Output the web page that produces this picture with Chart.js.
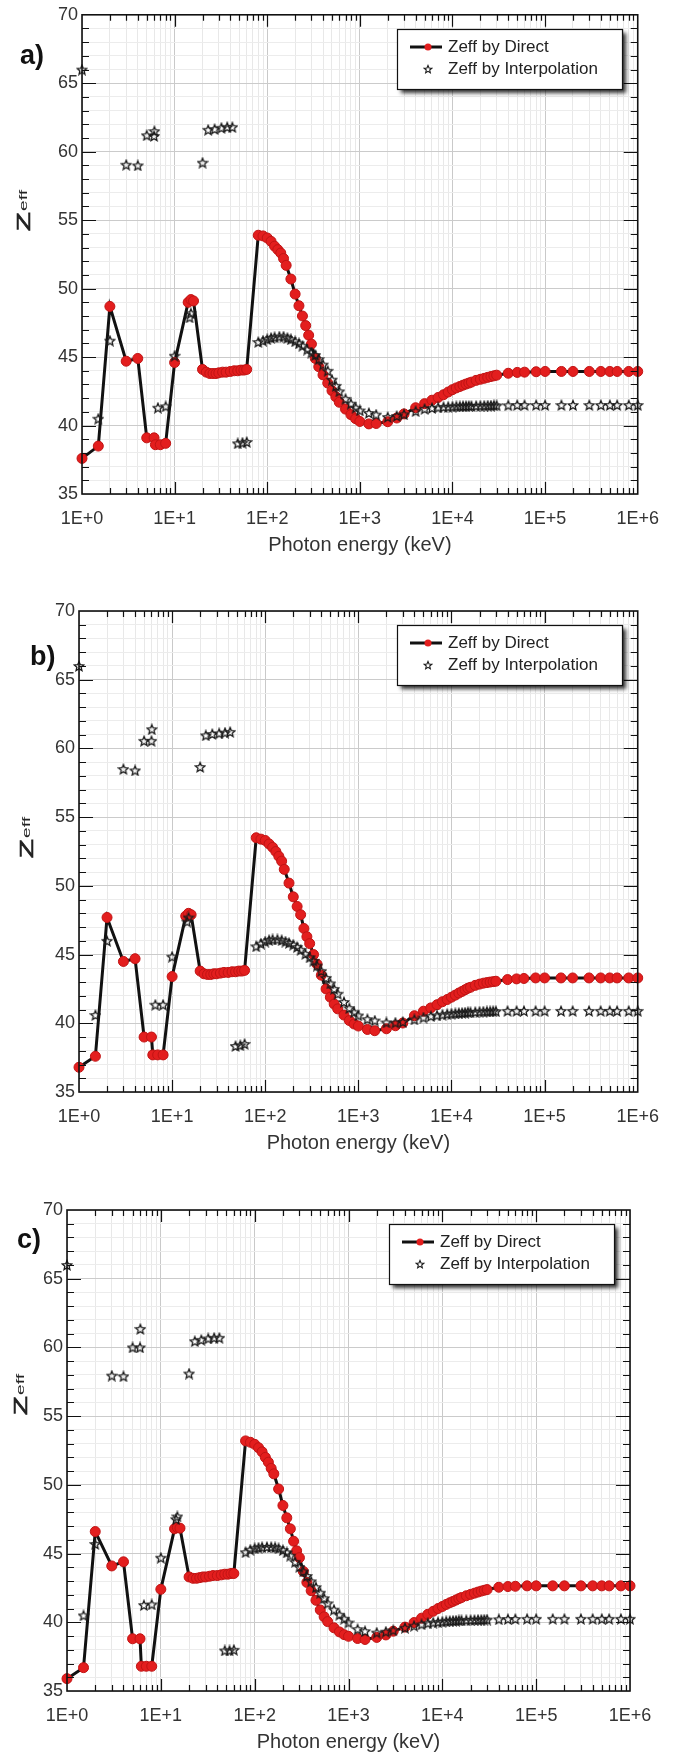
<!DOCTYPE html>
<html>
<head>
<meta charset="utf-8">
<script src="https://cdn.jsdelivr.net/npm/chart.js@4.4.1/dist/chart.umd.min.js"></script>
<style>
  body { margin: 0; background: #fff; }
  .panel { position: absolute; left: 0; }
</style>
</head>
<body>
<canvas id="chartA" class="panel" width="673" height="557" style="top:0px"></canvas>
<canvas id="chartB" class="panel" width="673" height="595" style="top:560px"></canvas>
<canvas id="chartC" class="panel" width="673" height="594" style="top:1160px"></canvas>
<script>
// Photon energies (keV)
const energyDirect = [
  1, 1.5, 2, 3, 4, 5, 6, 6.2, 7, 8,
  10, 14, 15, 16, 20,
  22, 24, 26, 28, 30, 33, 36, 40, 44, 48, 52, 56, 60,
  80, 90, 100, 110, 120, 130, 140, 150, 160, 180, 200,
  220, 240, 260, 280, 300, 330, 360, 400, 450, 500,
  550, 600, 700, 800, 900, 1000, 1250, 1500, 2000, 2500,
  3000, 4000, 5000, 6000, 7000, 8000, 9000, 10000,
  11000, 12000, 13000, 14000, 15000, 16000, 18000, 20000,
  22000, 24000, 26000, 28000, 30000, 40000, 50000, 60000, 80000,
  100000, 150000, 200000, 300000, 400000, 500000, 600000, 800000, 1000000
];
const energyInterp = [
  1, 1.5, 2, 3, 4, 5, 6, 6.05, 6.6, 8, 10,
  14.5, 15, 20,
  23, 27, 32, 37, 42,
  48, 54, 60,
  80, 90, 100, 110, 120, 135, 150, 165, 180, 200,
  220, 240, 270, 300, 330, 360, 400, 450, 500,
  550, 600, 700, 800, 900, 1000, 1250, 1500, 2000, 2500,
  3000, 4000, 5000, 6000, 7000, 8000, 9000, 10000,
  11000, 12000, 13000, 14000, 15000, 16000,
  18000, 20000, 22000, 24000, 26000, 28000, 30000,
  40000, 50000, 60000, 80000,
  100000, 150000, 200000, 300000, 400000, 500000, 600000, 800000, 1000000
];

// panel a)
const zDirectA = [
  37.6, 38.5, 48.7, 44.7, 44.9, 39.1, 39.1, 38.6, 38.6, 38.7,
  44.6, 49.0, 49.2, 49.1, 44.1,
  43.9, 43.8, 43.8, 43.8, 43.85, 43.9, 43.9, 43.95, 44.0, 44.0, 44.05, 44.05, 44.1,
  53.9, 53.85, 53.7, 53.45, 53.1, 52.85, 52.6, 52.2, 51.7, 50.7, 49.6,
  48.75, 48.0, 47.3, 46.6, 45.95, 44.9, 44.3, 43.7, 43.1, 42.55,
  42.1, 41.7, 41.2, 40.8, 40.5, 40.3, 40.12, 40.15, 40.28, 40.55,
  40.85, 41.3, 41.6, 41.85, 42.05, 42.25, 42.45, 42.62,
  42.75, 42.85, 42.95, 43.03, 43.1, 43.17, 43.3, 43.38,
  43.45, 43.52, 43.58, 43.63, 43.68, 43.82, 43.88, 43.9, 43.93,
  43.95, 43.95, 43.95, 43.95, 43.95, 43.95, 43.95, 43.95, 43.95
];
const zInterpA = [
  66.0, 40.5, 46.2, 59.05, 59.0, 61.2, 61.15, 61.5, 41.3, 41.4, 45.1,
  47.9, 48.2, 59.2,
  61.6, 61.65, 61.75, 61.8, 61.8,
  38.7, 38.75, 38.8,
  46.1, 46.2, 46.3, 46.4, 46.45, 46.5, 46.5, 46.4, 46.3, 46.15,
  46.0, 45.83, 45.55, 45.33, 45.15, 44.85, 44.45, 44.0, 43.35,
  42.9, 42.5, 41.95, 41.6, 41.3, 41.1, 40.92, 40.8, 40.62, 40.7,
  40.82, 41.05, 41.22, 41.28, 41.32, 41.35, 41.37, 41.38,
  41.4, 41.4, 41.42, 41.42, 41.43, 41.43,
  41.44, 41.45, 41.45, 41.46, 41.46, 41.47, 41.47,
  41.48, 41.5, 41.5, 41.5,
  41.5, 41.5, 41.5, 41.5, 41.5, 41.5, 41.5, 41.5, 41.5
];

// panel b)
const zDirectB = [
  36.8, 37.6, 47.7, 44.5, 44.7, 39.0, 39.0, 37.7, 37.7, 37.7,
  43.4, 47.8, 48.0, 47.9, 43.8,
  43.6, 43.55, 43.55, 43.6, 43.6, 43.65, 43.7, 43.7, 43.75, 43.75, 43.8, 43.8, 43.85,
  53.5, 53.4, 53.3, 53.05, 52.8, 52.5, 52.15, 51.8, 51.2, 50.2, 49.2,
  48.5, 47.9, 46.9, 46.3, 45.8, 45.0, 44.3, 43.5, 42.5, 41.9,
  41.4, 41.05, 40.6, 40.2, 39.95, 39.8, 39.55, 39.46, 39.6, 39.82,
  40.02, 40.55, 40.88, 41.12, 41.35, 41.57, 41.73, 41.9,
  42.05, 42.2, 42.32, 42.44, 42.55, 42.62, 42.76, 42.85,
  42.92, 42.96, 43.0, 43.03, 43.06, 43.18, 43.23, 43.26, 43.3,
  43.3, 43.3, 43.3, 43.3, 43.3, 43.3, 43.3, 43.3, 43.3
];
const zInterpB = [
  66.0, 40.6, 46.0, 58.5, 58.4, 60.55, 60.55, 61.4, 41.35, 41.35, 44.85,
  47.4, 47.7, 58.65,
  60.95, 61.05, 61.1, 61.15, 61.2,
  38.35, 38.4, 38.5,
  45.6, 45.8, 45.95, 46.05, 46.1, 46.1, 46.05, 45.95, 45.85, 45.72,
  45.55, 45.35, 45.05, 44.8, 44.55, 44.2, 43.8, 43.3, 42.9,
  42.5, 42.15, 41.55, 41.1, 40.8, 40.57, 40.3, 40.2, 40.06, 40.05,
  40.1, 40.28, 40.42, 40.52, 40.58, 40.63, 40.67, 40.7,
  40.72, 40.74, 40.76, 40.78, 40.8, 40.8,
  40.82, 40.84, 40.85, 40.86, 40.87, 40.88, 40.88,
  40.9, 40.9, 40.9, 40.9,
  40.9, 40.9, 40.9, 40.9, 40.9, 40.9, 40.9, 40.9, 40.9
];

// panel c)
const zDirectC = [
  35.9, 36.7, 46.6, 44.1, 44.4, 38.8, 38.8, 36.8, 36.8, 36.8,
  42.4, 46.8, 46.9, 46.85, 43.3,
  43.2, 43.2, 43.25, 43.3, 43.3, 43.35, 43.4, 43.4, 43.45, 43.5, 43.5, 43.55, 43.55,
  53.2, 53.1, 52.95, 52.7, 52.4, 52.0, 51.65, 51.2, 50.8, 49.7, 48.5,
  47.6, 46.8, 45.9, 45.2, 44.7, 43.7, 42.9, 42.3, 41.6, 40.9,
  40.4, 40.05, 39.6, 39.3, 39.1, 38.98, 38.82, 38.75, 38.9, 39.08,
  39.35, 39.65, 39.98, 40.3, 40.58, 40.8, 41.0, 41.15,
  41.3, 41.42, 41.52, 41.62, 41.72, 41.8, 41.93, 42.03,
  42.12, 42.2, 42.27, 42.33, 42.38, 42.55, 42.6, 42.62, 42.65,
  42.65, 42.65, 42.65, 42.65, 42.65, 42.65, 42.65, 42.65, 42.65
];
const zInterpC = [
  66.0, 40.5, 45.7, 57.95, 57.9, 60.0, 60.0, 61.35, 41.25, 41.3, 44.7,
  47.5, 47.7, 58.1,
  60.45, 60.55, 60.65, 60.7, 60.7,
  37.95, 37.95, 38.0,
  45.1, 45.28, 45.38, 45.43, 45.46, 45.48, 45.47, 45.45, 45.38, 45.25,
  45.08, 44.85, 44.4, 44.03, 43.7, 43.37, 42.98, 42.55, 42.15,
  41.75, 41.38, 40.92, 40.55, 40.26, 39.98, 39.5, 39.35, 39.25, 39.32,
  39.42, 39.6, 39.75, 39.85, 39.93, 39.98, 40.01, 40.04,
  40.07, 40.09, 40.11, 40.12, 40.13, 40.14,
  40.15, 40.16, 40.17, 40.18, 40.18, 40.19, 40.2,
  40.22, 40.23, 40.24, 40.25,
  40.25, 40.25, 40.25, 40.25, 40.25, 40.25, 40.25, 40.25, 40.25
];

const yTickLabels = [35, 40, 45, 50, 55, 60, 65, 70];
const xTickValues = [1, 10, 100, 1000, 10000, 100000, 1000000];
const xTickLabels = ['1E+0', '1E+1', '1E+2', '1E+3', '1E+4', '1E+5', '1E+6'];
const legendLabels = ['Zeff by Direct', 'Zeff by Interpolation'];
const xTitle = 'Photon energy (keV)';

const FONT = '"Liberation Sans", Arial, sans-serif';
const RED = '#e31e1e';

// hollow five point star used as point style
function starImage(size, lineWidth) {
  const c = document.createElement('canvas');
  c.width = size;
  c.height = size;
  const g = c.getContext('2d');
  const R = size / 2 - 1, r = R * 0.45;
  g.beginPath();
  for (let i = 0; i < 10; i++) {
    const ang = -Math.PI / 2 + i * Math.PI / 5;
    const rad = i % 2 ? r : R;
    g.lineTo(size / 2 + rad * Math.cos(ang), size / 2 + 0.5 + rad * Math.sin(ang));
  }
  g.closePath();
  g.lineWidth = lineWidth;
  g.strokeStyle = '#1a1a1a';
  g.stroke();
  return c;
}
const star = starImage(12, 1.3);
const legendStar = starImage(10, 1.1);

function toPoints(xs, ys) {
  return xs.map((x, i) => ({ x: x, y: ys[i] }));
}

function isDecade(v) {
  return xTickValues.indexOf(v) !== -1;
}

function makePanel(id, cfg) {
  const canvas = document.getElementById(id);
  const W = canvas.width, H = canvas.height;
  const area = cfg.area;

  // frame, inward ticks, legend, y title and panel letter
  const decor = {
    id: 'decor',
    afterDraw(chart) {
      const ctx = chart.ctx, a = chart.chartArea;
      const xs = chart.scales.x, ys = chart.scales.y;
      ctx.save();

      ctx.strokeStyle = '#111';
      ctx.lineWidth = 1.2;
      ctx.beginPath();
      ys.ticks.forEach(t => {
        if (t.value <= 35 || t.value >= 70) return;
        const y = Math.round(ys.getPixelForValue(t.value)) + 0.5;
        const len = t.value % 5 === 0 ? 14 : 7;
        ctx.moveTo(a.left, y); ctx.lineTo(a.left + len, y);
        ctx.moveTo(a.right, y); ctx.lineTo(a.right - len, y);
      });
      xs.ticks.forEach(t => {
        if (t.value <= 1 || t.value >= 1000000) return;
        const x = Math.round(xs.getPixelForValue(t.value)) + 0.5;
        const len = isDecade(t.value) ? 12 : 6;
        ctx.moveTo(x, a.bottom); ctx.lineTo(x, a.bottom - len);
        ctx.moveTo(x, a.top); ctx.lineTo(x, a.top + len);
      });
      ctx.stroke();

      ctx.lineWidth = 1.6;
      ctx.strokeRect(a.left, a.top, a.right - a.left, a.bottom - a.top);

      // legend box with shadow
      const lw = 225, lh = 60;
      const lx = Math.round(a.right - 16 - lw), ly = Math.round(a.top + 14);
      ctx.save();
      ctx.shadowColor = 'rgba(0,0,0,0.8)';
      ctx.shadowBlur = 4;
      ctx.shadowOffsetX = 4;
      ctx.shadowOffsetY = 4;
      ctx.fillStyle = '#fff';
      ctx.fillRect(lx, ly, lw, lh);
      ctx.restore();
      ctx.lineWidth = 1.2;
      ctx.strokeStyle = '#111';
      ctx.strokeRect(lx + 0.5, ly + 0.5, lw, lh);

      const r1 = ly + 18, r2 = ly + 40;
      ctx.lineWidth = 3;
      ctx.beginPath();
      ctx.moveTo(lx + 13, r1);
      ctx.lineTo(lx + 45, r1);
      ctx.stroke();
      ctx.fillStyle = RED;
      ctx.beginPath();
      ctx.arc(lx + 31, r1, 3.5, 0, Math.PI * 2);
      ctx.fill();
      ctx.drawImage(legendStar, lx + 31 - 5, r2 - 5);

      ctx.fillStyle = '#222';
      ctx.font = '17px ' + FONT;
      ctx.textBaseline = 'middle';
      ctx.textAlign = 'left';
      ctx.fillText(legendLabels[0], lx + 51, r1);
      ctx.fillText(legendLabels[1], lx + 51, r2);

      // y title: Z with small eff, stretched along the text
      ctx.save();
      ctx.translate(cfg.titleX, cfg.titleY);
      ctx.rotate(-Math.PI / 2);
      ctx.scale(1.75, 1);
      ctx.textBaseline = 'alphabetic';
      ctx.font = '18px ' + FONT;
      const zw = ctx.measureText('Z').width;
      ctx.font = '11px ' + FONT;
      const ew = ctx.measureText('eff').width;
      const start = -(zw + ew) / 2;
      ctx.fillStyle = '#222';
      ctx.strokeStyle = '#222';
      ctx.lineWidth = 0.6;
      ctx.font = '18px ' + FONT;
      ctx.fillText('Z', start, 6.5);
      ctx.strokeText('Z', start, 6.5);
      ctx.font = '11px ' + FONT;
      ctx.fillText('eff', start + zw + 0.5, 4);
      ctx.restore();

      // panel letter
      ctx.fillStyle = '#111';
      ctx.font = 'bold 27px ' + FONT;
      ctx.textBaseline = 'middle';
      ctx.fillText(cfg.letter, cfg.letterX, cfg.letterY);

      ctx.restore();
    }
  };

  new Chart(canvas.getContext('2d'), {
    type: 'line',
    data: {
      datasets: [{
        label: legendLabels[0],
        data: toPoints(energyDirect, cfg.zDirect),
        borderColor: '#111',
        borderWidth: 3,
        pointRadius: 5,
        pointBackgroundColor: RED,
        pointBorderColor: '#c01414',
        pointBorderWidth: 1,
        tension: 0,
        clip: false,
        order: 2
      }, {
        label: legendLabels[1],
        data: toPoints(energyInterp, cfg.zInterp),
        showLine: false,
        pointStyle: star,
        pointRadius: 6,
        clip: false,
        order: 1
      }]
    },
    options: {
      responsive: false,
      animation: false,
      devicePixelRatio: 1,
      events: [],
      layout: {
        padding: { top: area.top, left: 0, right: W - area.right, bottom: 0 }
      },
      plugins: {
        legend: { display: false },
        tooltip: { enabled: false }
      },
      scales: {
        x: {
          type: 'logarithmic',
          min: 1,
          max: 1000000,
          afterFit: s => { s.height = H - area.bottom; },
          afterBuildTicks: s => {
            const ticks = [];
            xTickValues.forEach((d, i) => {
              ticks.push({ value: d });
              if (i < xTickValues.length - 1) {
                for (let k = 2; k <= 9; k++) ticks.push({ value: d * k });
              }
            });
            s.ticks = ticks;
          },
          ticks: {
            autoSkip: false,
            maxRotation: 0,
            padding: 14,
            color: '#333',
            font: { family: FONT, size: 18 },
            callback: v => {
              const i = xTickValues.indexOf(v);
              return i >= 0 ? xTickLabels[i] : '';
            }
          },
          grid: {
            drawTicks: false,
            color: c => isDecade(c.tick.value) ? '#c9c9c9' : '#e8e8e8'
          },
          border: { display: false },
          title: {
            display: true,
            text: xTitle,
            color: '#333',
            padding: 0,
            font: { family: FONT, size: 20 }
          }
        },
        y: {
          min: 35,
          max: 70,
          afterFit: s => { s.width = area.left; },
          ticks: {
            stepSize: 1,
            autoSkip: false,
            padding: 4,
            color: '#333',
            font: { family: FONT, size: 18 },
            callback: v => yTickLabels.includes(v) ? String(v) : ''
          },
          grid: {
            drawTicks: false,
            color: c => c.tick.value % 5 === 0 ? '#cbcbcb' : '#ececec'
          },
          border: { display: false }
        }
      }
    },
    plugins: [decor]
  });
}

makePanel('chartA', {
  area: { left: 82, right: 646, top: 14, bottom: 494 },
  zDirect: zDirectA, zInterp: zInterpA,
  letter: 'a)', letterX: 20, letterY: 57,
  titleX: 23, titleY: 211
});
makePanel('chartB', {
  area: { left: 79, right: 644, top: 51, bottom: 532 },
  zDirect: zDirectB, zInterp: zInterpB,
  letter: 'b)', letterX: 30, letterY: 98,
  titleX: 26, titleY: 278
});
makePanel('chartC', {
  area: { left: 67, right: 630, top: 50, bottom: 531 },
  zDirect: zDirectC, zInterp: zInterpC,
  letter: 'c)', letterX: 17, letterY: 81,
  titleX: 20, titleY: 235
});
</script>
</body>
</html>
